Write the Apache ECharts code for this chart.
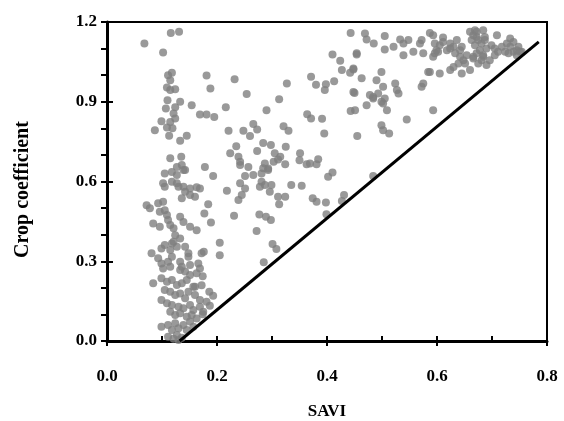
<!DOCTYPE html>
<html>
<head>
<meta charset="utf-8">
<script src="https://cdn.jsdelivr.net/npm/echarts@6/dist/echarts.min.js"></script>
<style>
  html, body { margin: 0; padding: 0; background: #fff; }
  #chart { width: 564px; height: 421px; }
</style>
</head>
<body>
<div id="chart"></div>
<script>
// [SAVI, crop coefficient]
const lowBand = [
  [0.116,1.159],[0.131,1.163],[0.068,1.119],[0.102,1.085],
  [0.111,1.000],[0.118,1.009],[0.115,0.981],
  [0.109,0.954],[0.115,0.944],[0.124,0.947],
  [0.110,0.906],[0.133,0.900],[0.124,0.879],[0.107,0.875],[0.154,0.887],
  [0.121,0.856],[0.124,0.837],[0.115,0.824],[0.099,0.827],
  [0.109,0.803],[0.119,0.800],[0.087,0.793],[0.113,0.772],
  [0.145,0.772],[0.133,0.753],
  [0.169,0.852],[0.181,0.852],[0.195,0.843],
  [0.181,0.999],[0.188,0.950],
  [0.115,0.687],[0.135,0.693],
  [0.105,0.630],[0.118,0.636],[0.127,0.655],[0.136,0.662],[0.139,0.643],[0.127,0.624],[0.142,0.643],
  [0.178,0.655],[0.193,0.621],
  [0.102,0.593],[0.118,0.599],[0.127,0.593],[0.139,0.580],[0.151,0.574],[0.163,0.578],
  [0.105,0.580],[0.130,0.580],[0.142,0.561],[0.136,0.537],[0.151,0.549],
  [0.169,0.574],[0.160,0.543],
  [0.072,0.511],[0.078,0.499],[0.093,0.518],[0.102,0.524],[0.105,0.492],[0.096,0.486],
  [0.109,0.474],[0.111,0.455],[0.115,0.436],[0.121,0.424],
  [0.133,0.467],[0.139,0.448],[0.151,0.430],[0.163,0.417],
  [0.177,0.480],[0.184,0.514],[0.189,0.446],
  [0.084,0.442],[0.096,0.430],
  [0.124,0.398],[0.133,0.386],[0.121,0.373],[0.127,0.355],[0.118,0.367],[0.105,0.361],[0.099,0.348],[0.115,0.342],
  [0.142,0.355],[0.148,0.330],
  [0.081,0.330],[0.093,0.311],[0.099,0.292],[0.111,0.298],[0.118,0.317],
  [0.133,0.298],[0.136,0.279],[0.151,0.286],[0.148,0.317],[0.172,0.330],[0.166,0.292],
  [0.176,0.336],[0.205,0.370],[0.205,0.323],
  [0.084,0.217],
  [0.102,0.273],[0.115,0.279],[0.133,0.267],[0.142,0.261],[0.151,0.248],[0.163,0.255],[0.169,0.273],
  [0.099,0.236],[0.109,0.223],[0.118,0.229],[0.127,0.211],[0.136,0.217],[0.145,0.229],[0.157,0.204],
  [0.105,0.192],[0.115,0.185],[0.124,0.173],[0.133,0.179],[0.142,0.161],[0.148,0.185],[0.160,0.173],[0.169,0.154],
  [0.099,0.154],[0.109,0.142],[0.118,0.135],[0.130,0.129],[0.139,0.123],[0.151,0.135],[0.157,0.117],[0.169,0.129],[0.181,0.148],
  [0.115,0.110],[0.124,0.098],[0.133,0.104],[0.145,0.091],[0.154,0.098],[0.163,0.085],[0.175,0.110],
  [0.099,0.054],[0.111,0.060],[0.118,0.041],[0.124,0.067],[0.130,0.048],[0.139,0.060],[0.145,0.041],[0.151,0.073],[0.157,0.054],
  [0.111,0.016],[0.121,0.008],[0.130,0.004],[0.136,0.012],[0.127,0.023],
  [0.160,0.204],[0.172,0.210],
  [0.174,0.244],[0.186,0.185],[0.193,0.170],[0.187,0.133],[0.174,0.101]
];

const midBand = [
  [0.232,0.985],[0.254,0.929],[0.327,0.969],[0.313,0.909],[0.216,0.879],[0.290,0.868],
  [0.371,0.994],[0.380,0.964],[0.398,0.966],[0.396,0.944],
  [0.364,0.853],[0.371,0.837],[0.391,0.836],
  [0.395,0.781],[0.221,0.791],[0.248,0.791],
  [0.266,0.816],[0.273,0.796],[0.260,0.771],[0.321,0.808],[0.330,0.791],
  [0.235,0.733],[0.224,0.706],[0.284,0.745],[0.298,0.737],[0.325,0.731],[0.273,0.715],[0.239,0.693],
  [0.242,0.662],[0.257,0.655],[0.242,0.674],
  [0.305,0.706],[0.315,0.693],[0.303,0.674],[0.324,0.665],[0.311,0.683],
  [0.287,0.668],[0.293,0.649],[0.284,0.650],
  [0.351,0.706],[0.350,0.680],[0.363,0.665],[0.369,0.668],[0.384,0.684],[0.381,0.665],
  [0.251,0.621],[0.266,0.624],[0.281,0.630],[0.293,0.643],
  [0.410,0.634],[0.402,0.618],
  [0.242,0.593],[0.251,0.574],[0.245,0.549],[0.239,0.530],[0.218,0.565],
  [0.281,0.599],[0.287,0.587],[0.299,0.587],[0.296,0.561],[0.278,0.580],
  [0.311,0.543],[0.324,0.543],[0.313,0.514],
  [0.335,0.587],[0.354,0.584],
  [0.374,0.537],[0.381,0.524],[0.398,0.521],
  [0.431,0.549],[0.427,0.527],[0.399,0.477],
  [0.231,0.471],[0.277,0.476],[0.289,0.467],[0.298,0.455],[0.272,0.414],
  [0.301,0.365],[0.308,0.346],[0.285,0.296]
];

const highBand = [
  [0.443,1.159],[0.410,1.078],[0.424,1.054],[0.454,1.078],[0.427,1.019],[0.448,1.021],[0.442,1.009],
  [0.413,0.977],[0.450,0.933],[0.443,0.865],[0.455,0.771],
  [0.469,1.157],[0.472,1.134],[0.485,1.119],[0.505,1.147],[0.505,1.097],[0.521,1.107],
  [0.533,1.134],[0.539,1.119],[0.548,1.132],[0.539,1.075],[0.557,1.088],[0.569,1.119],
  [0.587,1.159],[0.593,1.150],[0.596,1.119],[0.605,1.113],[0.593,1.069],[0.611,1.125],[0.618,1.094],
  [0.624,1.119],[0.630,1.107],[0.602,1.088],[0.611,1.142],[0.599,1.094],[0.596,1.082],
  [0.624,1.100],[0.636,1.132],[0.642,1.094],[0.633,1.082],[0.642,1.069],[0.648,1.056],[0.639,1.044],[0.645,1.107],
  [0.660,1.163],[0.666,1.150],[0.672,1.163],[0.663,1.132],[0.675,1.132],[0.669,1.113],[0.681,1.119],
  [0.678,1.094],[0.672,1.082],[0.666,1.069],[0.684,1.075],[0.681,1.056],[0.675,1.044],[0.690,1.100],[0.687,1.132],
  [0.699,1.113],[0.705,1.100],[0.711,1.088],[0.705,1.075],[0.718,1.107],[0.724,1.088],[0.730,1.082],
  [0.727,1.119],[0.733,1.107],[0.739,1.088],[0.745,1.075],[0.751,1.088],[0.709,1.150],
  [0.587,1.012],[0.605,1.006],[0.624,1.019],[0.630,1.031],[0.645,1.006],[0.660,1.019],
  [0.575,0.969],[0.572,1.132],[0.575,1.082],[0.454,1.082],[0.448,1.025],[0.584,1.012],
  [0.651,1.044],[0.654,1.075],[0.666,1.063],[0.684,1.069],[0.690,1.038],[0.696,1.056],
  [0.672,1.144],[0.684,1.169],[0.687,1.144],[0.669,1.169],
  [0.463,0.988],[0.490,0.981],[0.499,1.012],[0.502,0.956],[0.493,0.931],[0.478,0.925],[0.484,0.912],
  [0.472,0.887],[0.505,0.912],[0.502,0.893],[0.509,0.868],[0.524,0.969],[0.530,0.931],[0.527,0.944],
  [0.448,0.937],[0.451,0.868],[0.572,0.956],[0.593,0.868],[0.545,0.833],
  [0.499,0.812],[0.502,0.793],[0.513,0.781],[0.484,0.621],
  [0.484,0.918],[0.499,0.900],
  [0.733,1.138],[0.739,1.125],[0.748,1.107],[0.754,1.088],[0.745,1.094]
];

// reference line
const lineSavi = [0.132, 0.785];
const lineKc = [0, 1.125];

const xTicks = ['0.0', '0.2', '0.4', '0.6', '0.8'];
const yTicks = ['0.0', '0.3', '0.6', '0.9', '1.2'];

const font = 'Liberation Serif, Times New Roman, serif';
const gridBox = { left: 107, right: 17, top: 22, bottom: 80, outerBoundsMode: 'none', containLabel: false };

let myChart = echarts.init(document.getElementById('chart'));

let option = {
  animation: false,
  grid: [
    Object.assign({ show: true, borderColor: '#000', borderWidth: 2 }, gridBox),
    Object.assign({}, gridBox)
  ],
  xAxis: [
    {
      type: 'value', gridIndex: 0, min: 0, max: 0.8, interval: 0.2,
      name: 'SAVI', nameLocation: 'middle', nameGap: 62,
      nameTextStyle: { fontFamily: font, fontWeight: 'bold', fontSize: 17, color: '#000' },
      axisLine: { lineStyle: { color: '#000', width: 3 } },
      axisTick: { inside: false, length: 5, lineStyle: { color: '#000', width: 2 } },
      axisLabel: {
        margin: 27, fontFamily: font, fontWeight: 'bold', fontSize: 17, color: '#000',
        formatter: function (v) {
          let s = v.toFixed(1);
          return xTicks.indexOf(s) >= 0 ? s : '';
        }
      },
      splitLine: { show: false }
    },
    {
      type: 'value', gridIndex: 1, min: 0, max: 0.8, interval: 0.1,
      axisLine: { show: false },
      axisTick: { inside: true, length: 5, lineStyle: { color: '#000', width: 2 } },
      axisLabel: { show: false },
      splitLine: { show: false }
    }
  ],
  yAxis: [
    {
      type: 'value', gridIndex: 0, min: 0, max: 1.2, interval: 0.1,
      name: 'Crop coefficient', nameLocation: 'middle', nameGap: 74, nameRotate: 90,
      nameTextStyle: { fontFamily: font, fontWeight: 'bold', fontSize: 20, color: '#000', padding: [0, 16, 0, 0] },
      axisLine: { lineStyle: { color: '#000', width: 3 } },
      axisTick: { inside: false, length: 6, lineStyle: { color: '#000', width: 2 } },
      axisLabel: {
        margin: 10, fontFamily: font, fontWeight: 'bold', fontSize: 17, color: '#000',
        formatter: function (v) {
          let s = v.toFixed(1);
          return yTicks.indexOf(s) >= 0 ? s : '';
        }
      },
      splitLine: { show: false }
    },
    {
      type: 'value', gridIndex: 1, min: 0, max: 1.2, interval: 0.3,
      axisLine: { show: false },
      axisTick: { inside: true, length: 6, lineStyle: { color: '#000', width: 2 } },
      axisLabel: { show: false },
      splitLine: { show: false }
    }
  ],
  series: [
    {
      type: 'scatter', xAxisIndex: 0, yAxisIndex: 0,
      symbolSize: 8,
      itemStyle: { color: '#808080' },
      data: lowBand.concat(midBand, highBand),
      z: 2
    },
    {
      type: 'line', xAxisIndex: 0, yAxisIndex: 0,
      data: [[lineSavi[0], lineKc[0]], [lineSavi[1], lineKc[1]]],
      symbol: 'none',
      lineStyle: { color: '#000', width: 3 },
      z: 3
    }
  ]
};

myChart.setOption(option);
</script>
</body>
</html>
